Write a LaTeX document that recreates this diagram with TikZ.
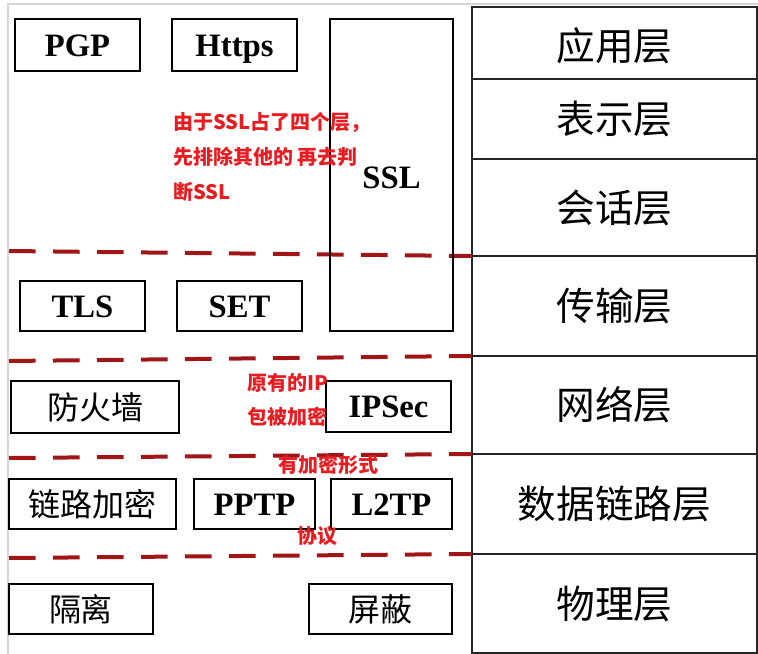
\documentclass[tikz,border=0pt]{standalone}
\usepackage{fontspec}
\setmainfont{Liberation Serif}
\newfontfamily\cjk{Noto Sans CJK SC}
\definecolor{notered}{RGB}{232,28,32}
\definecolor{dashred}{RGB}{160,22,22}
\definecolor{framegray}{RGB}{215,215,215}
\begin{document}
\begin{tikzpicture}[x=0.75pt,y=-0.75pt,
  bx/.style 2 args={draw=black,line width=1.6pt,inner sep=0pt,
    minimum width=#1*0.75pt,minimum height=#2*0.75pt},
  latin/.style={font=\fontsize{24.5}{26}\selectfont\bfseries,
    text height=16.5pt,text depth=0pt},
  han/.style={font=\cjk\fontsize{24}{26}\selectfont},
  layer/.style 2 args={draw=black!85,line width=1pt,inner sep=0pt,
    minimum width=285*0.75pt,minimum height=#2*0.75pt,
    font=\cjk\fontsize{29}{30}\selectfont},
  dline/.style={draw=dashred,line width=3pt,dash pattern=on 20pt off 13pt},
  note/.style={anchor=west,inner sep=0pt,text=notered,
    font=\cjk\bfseries\fontsize{15}{17}\selectfont}]
\useasboundingbox (0,0) rectangle (758,654);
\fill[white] (0,0) rectangle (758,654);
\draw[framegray,line width=0.8pt] (8,654) -- (8,4) -- (758,4);

% right column of layers
\node[layer={285}{72}]  (l1) at (614.5,43)  {};
\node[layer={285}{80}]  (l2) at (614.5,119) {表示层};
\node[layer={285}{97}]  (l3) at (614.5,207.5) {会话层};
\node[layer={285}{100}] (l4) at (614.5,306) {传输层};
\node[layer={285}{98}]  (l5) at (614.5,405) {网络层};
\node[layer={285}{100}] (l6) at (614.5,504) {数据链路层};
\node[layer={285}{99}]  (l7) at (614.5,603.5) {物理层};
\node[font=\cjk\fontsize{29}{30}\selectfont,inner sep=0pt] (l1t) at (614.5,46) {应用层};

% dashed separators
\coordinate (d1a) at (9,251);  \coordinate (d1b) at (472,256);
\coordinate (d2a) at (9,361);  \coordinate (d2b) at (472,356);
\coordinate (d3a) at (9,458);  \coordinate (d3b) at (472,454);
\coordinate (d4a) at (9,558);  \coordinate (d4b) at (472,554);
\draw[dline] (d1a) -- (d1b);
\draw[dline] (d2a) -- (d2b);
\draw[dline] (d3a) -- (d3b);
\draw[dline] (d4a) -- (d4b);

% protocol boxes
\node[bx={125}{52},latin] (pgp)   at (77.5,45)   {PGP};
\node[bx={125}{52},latin] (https) at (234.5,45)  {Https};
\node[bx={123}{312}]      (ssl)   at (391.5,175) {};
\node[latin,inner sep=0pt] (sslt) at (391.5,177) {SSL};
\node[bx={125}{50},latin] (tls)   at (82.5,306)  {TLS};
\node[bx={125}{50},latin] (set)   at (239.5,306) {SET};
\node[bx={168}{52},han]   (fw)    at (95,407)    {防火墙};
\node[bx={125}{51},latin] (ipsec) at (388.5,406.5) {IPSec};
\node[bx={167}{50},han]   (lenc)  at (92.5,504)  {链路加密};
\node[bx={121}{50},latin] (pptp)  at (254.5,504) {PPTP};
\node[bx={121}{50},latin] (ltwo)  at (391.5,504) {L2TP};
\node[bx={144}{50},han]   (iso)   at (81,609)    {隔离};
\node[bx={143}{50},han]   (shld)  at (380.5,609) {屏蔽};

% red annotations
\node[note] (n1) at (173,122) {由于SSL占了四个层，};
\node[note] (n2) at (173,157) {先排除其他的 再去判};
\node[note] (n3) at (173,192) {断SSL};
\node[note] (n4) at (247,383) {原有的IP};
\node[note] (n5) at (247,417) {包被加密};
\node[note] (n6) at (278,465) {有加密形式};
\node[note] (n7) at (297,536) {协议};
\end{tikzpicture}
\end{document}
